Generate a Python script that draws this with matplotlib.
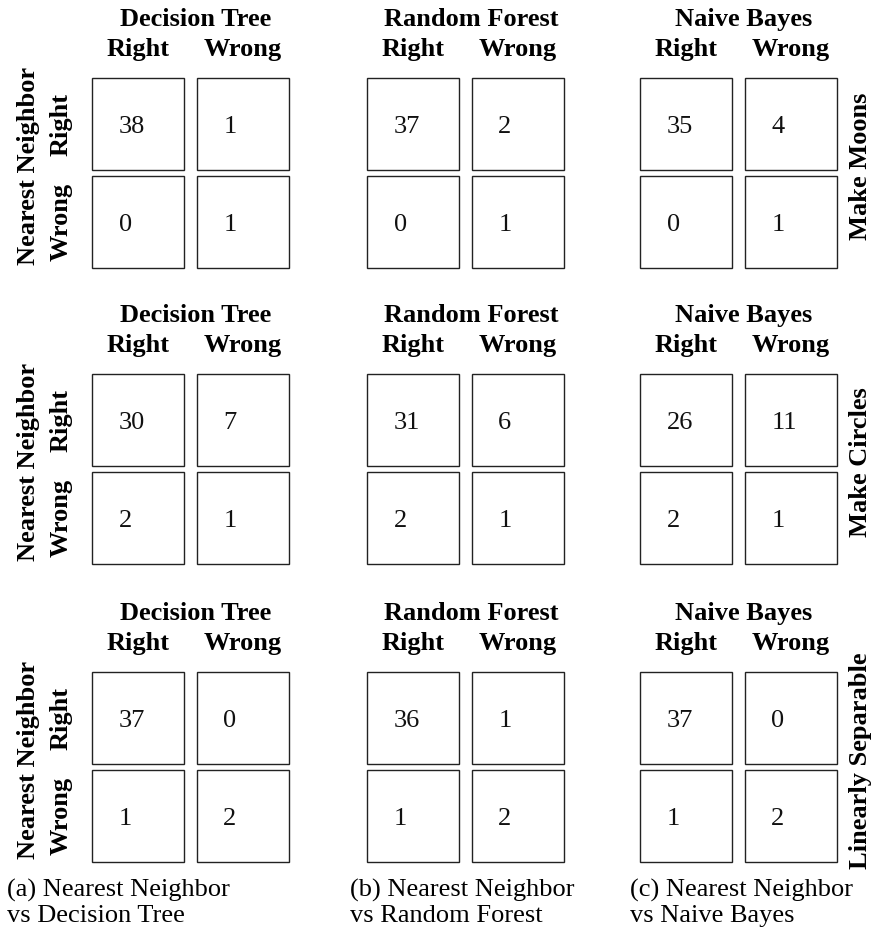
import matplotlib
matplotlib.use("Agg")
import matplotlib.pyplot as plt
import matplotlib.patches as mpatches

plt.rcParams["font.family"] = ["Liberation Serif", "DejaVu Serif"]

# ── dados ────────────────────────────────────────────────────────────────
classificadores = ["Decision Tree", "Random Forest", "Naive Bayes"]
datasets = ["Make Moons", "Make Circles", "Linearly Separable"]
rotulos = ["Right", "Wrong"]
referencia = "Nearest Neighbor"
legendas = [
    "(a) Nearest Neighbor\nvs Decision Tree",
    "(b) Nearest Neighbor\nvs Random Forest",
    "(c) Nearest Neighbor\nvs Naive Bayes",
]

# linhas = Nearest Neighbor (Right, Wrong), colunas = outro classificador
moons_counts = [
    [[38, 1], [0, 1]],
    [[37, 2], [0, 1]],
    [[35, 4], [0, 1]],
]
circles_counts = [
    [[30, 7], [2, 1]],
    [[31, 6], [2, 1]],
    [[26, 11], [2, 1]],
]
linsep_counts = [
    [[37, 0], [1, 2]],
    [[36, 1], [1, 2]],
    [[37, 0], [1, 2]],
]
todas = [moons_counts, circles_counts, linsep_counts]

# ── layout (pixels) ──────────────────────────────────────────────────────
W, H = 872, 930
COL_LEFT = [92, 367, 640]
ROW_TOP = [78, 374, 672]
PW, PH = 197, 190
GX, GY = 0.13, 0.065          # espaço entre células (unidades de célula)
UNIT = 92.0
FS = 19

fig = plt.figure(figsize=(W / 100, H / 100), dpi=100)

for r, (ds, mats) in enumerate(zip(datasets, todas)):
    for c, (clf, mat) in enumerate(zip(classificadores, mats)):
        ax = fig.add_axes([COL_LEFT[c] / W, 1 - (ROW_TOP[r] + PH) / H, PW / W, PH / H])
        ax.set_xlim(0, 2 + GX)
        ax.set_ylim(2 + GY, 0)
        ax.axis("off")

        for i in range(2):
            for j in range(2):
                x0 = j * (1 + GX)
                y0 = i * (1 + GY)
                ax.add_patch(mpatches.Rectangle((x0, y0), 1, 1, fill=False,
                                                edgecolor="#222222", linewidth=1.0,
                                                clip_on=False))
                ax.text(x0 + 0.29, y0 + 0.6, str(mat[i][j]), ha="left",
                        va="baseline", fontsize=FS, color="#111")

        # cabeçalhos
        ax.text((2 + GX) / 2 + 0.06, -52 / UNIT, clf, ha="center", va="baseline",
                fontsize=FS, fontweight="bold")
        for j, lab in enumerate(rotulos):
            ax.text(j * (1 + GX) + 0.5, -22 / UNIT, lab, ha="center", va="baseline",
                    fontsize=FS, fontweight="bold")

        if c == 0:
            for i, lab in enumerate(rotulos):
                ax.text(-31 / UNIT, i * (1 + GY) + 0.5, lab, rotation=90,
                        ha="center", va="center", fontsize=FS, fontweight="bold")
            ax.text(-63 / UNIT, (2 + GY) / 2 - 0.08, referencia, rotation=90,
                    ha="center", va="center", fontsize=FS, fontweight="bold")
        if c == 2:
            ax.text(2 + GX + 23 / UNIT, (2 + GY) / 2 - 0.07, ds, rotation=90,
                    ha="center", va="center", fontsize=FS, fontweight="bold")

# legendas das subfiguras
CAP_X = [7, 350, 630]
for x, txt in zip(CAP_X, legendas):
    l1, l2 = txt.split("\n")
    fig.text(x / W, 1 - 897 / H, l1, ha="left", va="baseline", fontsize=FS)
    fig.text(x / W, 1 - 922 / H, l2, ha="left", va="baseline", fontsize=FS)

fig.savefig("out.png", dpi=100)
